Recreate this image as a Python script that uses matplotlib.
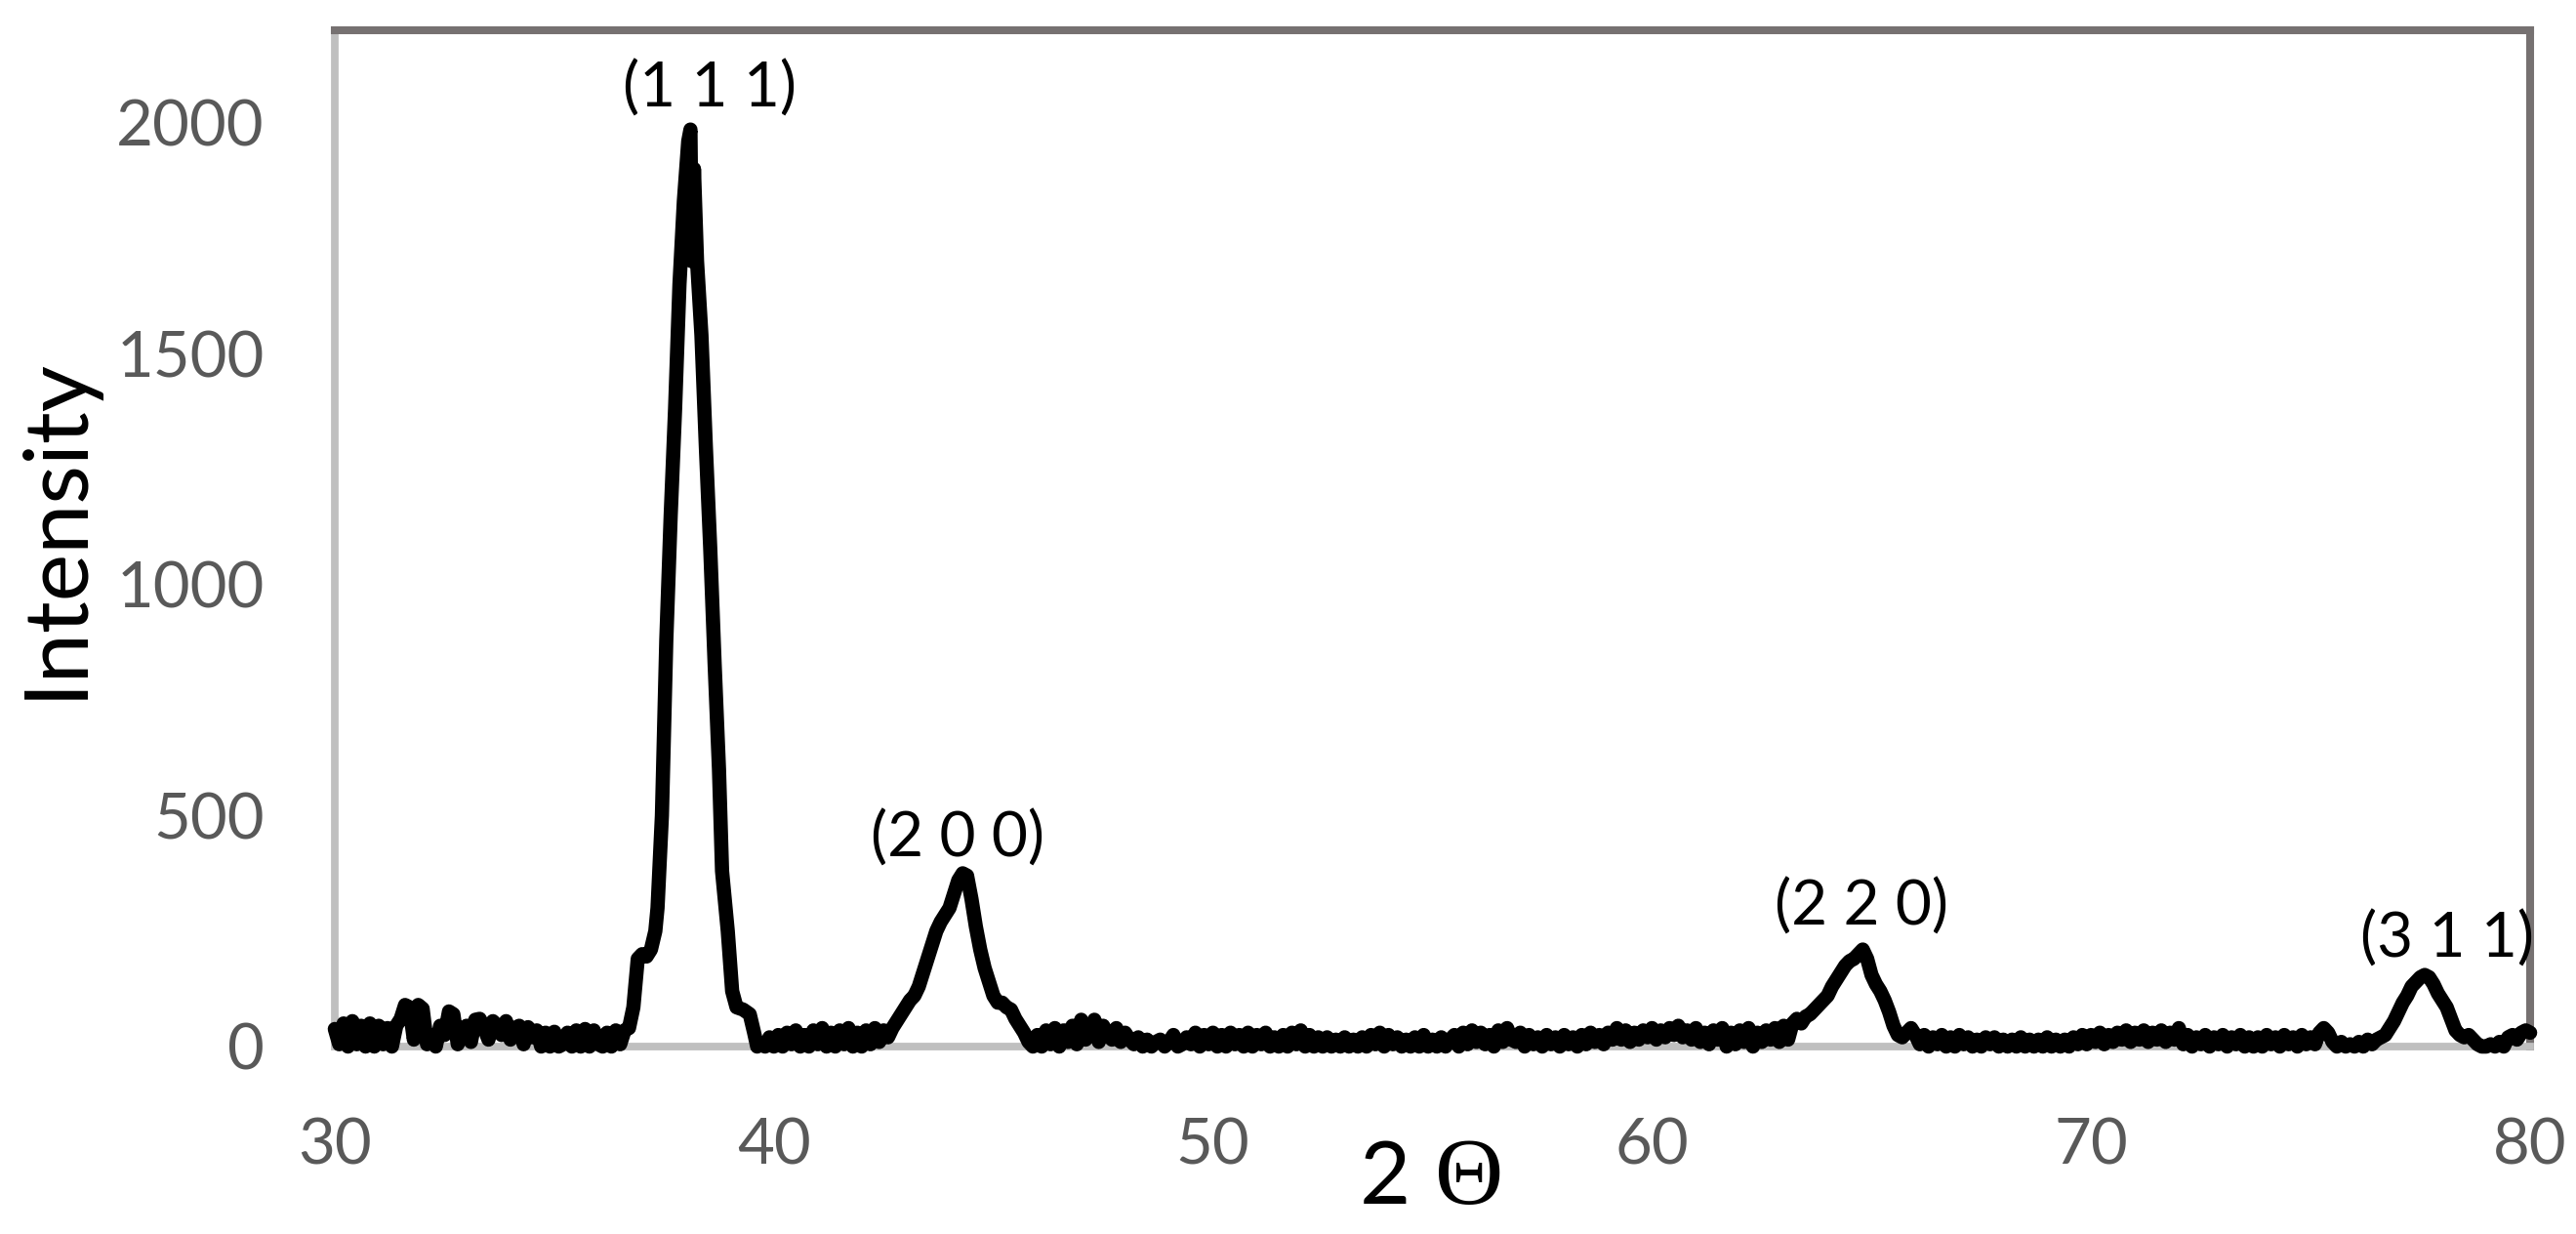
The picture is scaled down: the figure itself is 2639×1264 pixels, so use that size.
import matplotlib
matplotlib.use("Agg")
import matplotlib.pyplot as plt

# ---- data (2theta in degrees, intensity) ----
two_theta = [
    30.0, 30.1, 30.2, 30.3, 30.4, 30.5, 30.6, 30.7, 30.8, 30.9,
    31.0, 31.1, 31.2, 31.3, 31.4, 31.5, 31.6, 31.7, 31.8, 31.9,
    32.0, 32.1, 32.2, 32.3, 32.4, 32.5, 32.6, 32.7, 32.8, 32.9,
    33.0, 33.1, 33.2, 33.3, 33.4, 33.5, 33.6, 33.7, 33.8, 33.9,
    34.0, 34.1, 34.2, 34.3, 34.4, 34.5, 34.6, 34.7, 34.8, 34.9,
    35.0, 35.1, 35.2, 35.3, 35.4, 35.5, 35.6, 35.7, 35.8, 35.9,
    36.0, 36.1, 36.2, 36.3, 36.4, 36.5, 36.6, 36.7, 36.8, 36.9,
    37.0, 37.1, 37.2, 37.3, 37.35, 37.45, 37.55, 37.65, 37.75, 37.85,
    37.95, 38.05, 38.1, 38.13, 38.18, 38.25, 38.35, 38.45, 38.55, 38.65,
    38.75, 38.82, 38.9, 38.95, 39.05, 39.15, 39.3, 39.45, 39.55, 39.62,
    39.7, 39.8, 39.9, 40.0, 40.1, 40.2, 40.3, 40.4, 40.5, 40.6,
    40.7, 40.8, 40.9, 41.0, 41.1, 41.2, 41.3, 41.4, 41.5, 41.6,
    41.7, 41.8, 41.9, 42.0, 42.1, 42.2, 42.3, 42.4, 42.5, 42.6,
    42.7, 42.8, 42.9, 43.0, 43.1, 43.2, 43.3, 43.4, 43.5, 43.6,
    43.7, 43.8, 43.9, 44.0, 44.1, 44.2, 44.3, 44.4, 44.5, 44.6,
    44.7, 44.8, 44.9, 45.0, 45.1, 45.2, 45.3, 45.4, 45.5, 45.6,
    45.7, 45.8, 45.9, 46.0, 46.1, 46.2, 46.3, 46.4, 46.5, 46.6,
    46.7, 46.8, 46.9, 47.0, 47.1, 47.2, 47.3, 47.4, 47.5, 47.6,
    47.7, 47.8, 47.9, 48.0, 48.1, 48.2, 48.3, 48.4, 48.5, 48.6,
    48.7, 48.8, 48.9, 49.0, 49.1, 49.2, 49.3, 49.4, 49.5, 49.6,
    49.7, 49.8, 49.9, 50.0, 50.1, 50.2, 50.3, 50.4, 50.5, 50.6,
    50.7, 50.8, 50.9, 51.0, 51.1, 51.2, 51.3, 51.4, 51.5, 51.6,
    51.7, 51.8, 51.9, 52.0, 52.1, 52.2, 52.3, 52.4, 52.5, 52.6,
    52.7, 52.8, 52.9, 53.0, 53.1, 53.2, 53.3, 53.4, 53.5, 53.6,
    53.7, 53.8, 53.9, 54.0, 54.1, 54.2, 54.3, 54.4, 54.5, 54.6,
    54.7, 54.8, 54.9, 55.0, 55.1, 55.2, 55.3, 55.4, 55.5, 55.6,
    55.7, 55.8, 55.9, 56.0, 56.1, 56.2, 56.3, 56.4, 56.5, 56.6,
    56.7, 56.8, 56.9, 57.0, 57.1, 57.2, 57.3, 57.4, 57.5, 57.6,
    57.7, 57.8, 57.9, 58.0, 58.1, 58.2, 58.3, 58.4, 58.5, 58.6,
    58.7, 58.8, 58.9, 59.0, 59.1, 59.2, 59.3, 59.4, 59.5, 59.6,
    59.7, 59.8, 59.9, 60.0, 60.1, 60.2, 60.3, 60.4, 60.5, 60.6,
    60.7, 60.8, 60.9, 61.0, 61.1, 61.2, 61.3, 61.4, 61.5, 61.6,
    61.7, 61.8, 61.9, 62.0, 62.1, 62.2, 62.3, 62.4, 62.5, 62.6,
    62.7, 62.8, 62.9, 63.0, 63.1, 63.2, 63.3, 63.4, 63.5, 63.6,
    63.7, 63.8, 63.9, 64.0, 64.1, 64.2, 64.3, 64.4, 64.5, 64.6,
    64.7, 64.8, 64.9, 65.0, 65.1, 65.2, 65.3, 65.4, 65.5, 65.6,
    65.7, 65.8, 65.9, 66.0, 66.1, 66.2, 66.3, 66.4, 66.5, 66.6,
    66.7, 66.8, 66.9, 67.0, 67.1, 67.2, 67.3, 67.4, 67.5, 67.6,
    67.7, 67.8, 67.9, 68.0, 68.1, 68.2, 68.3, 68.4, 68.5, 68.6,
    68.7, 68.8, 68.9, 69.0, 69.1, 69.2, 69.3, 69.4, 69.5, 69.6,
    69.7, 69.8, 69.9, 70.0, 70.1, 70.2, 70.3, 70.4, 70.5, 70.6,
    70.7, 70.8, 70.9, 71.0, 71.1, 71.2, 71.3, 71.4, 71.5, 71.6,
    71.7, 71.8, 71.9, 72.0, 72.1, 72.2, 72.3, 72.4, 72.5, 72.6,
    72.7, 72.8, 72.9, 73.0, 73.1, 73.2, 73.3, 73.4, 73.5, 73.6,
    73.7, 73.8, 73.9, 74.0, 74.1, 74.2, 74.3, 74.4, 74.5, 74.6,
    74.7, 74.8, 74.9, 75.0, 75.1, 75.2, 75.3, 75.4, 75.5, 75.6,
    75.7, 75.8, 75.9, 76.0, 76.1, 76.2, 76.3, 76.4, 76.5, 76.6,
    76.7, 76.8, 76.9, 77.0, 77.1, 77.2, 77.3, 77.4, 77.5, 77.6,
    77.7, 77.8, 77.9, 78.0, 78.1, 78.2, 78.3, 78.4, 78.5, 78.6,
    78.7, 78.8, 78.9, 79.0, 79.1, 79.2, 79.3, 79.4, 79.5, 79.6,
    79.7, 79.8, 79.9, 80.0,
]
intensity = [
    38, 5, 50, 0, 55, 5, 45, 0, 50, 0,
    45, 5, 40, 0, 45, 60, 90, 85, 15, 90,
    82, 5, 25, 0, 45, 25, 76, 70, 5, 35,
    45, 10, 58, 60, 40, 15, 55, 45, 25, 55,
    15, 40, 45, 5, 42, 20, 35, 0, 30, 0,
    32, 0, 5, 30, 0, 35, 0, 38, 0, 35,
    5, 0, 30, 0, 35, 5, 35, 40, 85, 190,
    200, 195, 210, 250, 300, 500, 880, 1150, 1380, 1650,
    1830, 1960, 1985, 1700, 1900, 1700, 1540, 1300, 1080, 830,
    600, 380, 300, 250, 120, 85, 80, 70, 30, 0,
    5, 0, 20, 0, 25, 0, 30, 5, 35, 0,
    25, 0, 35, 5, 40, 0, 30, 0, 35, 5,
    40, 0, 30, 0, 35, 5, 40, 10, 35, 20,
    40, 55, 70, 85, 100, 110, 130, 160, 190, 220,
    250, 270, 285, 300, 330, 360, 375, 370, 320, 260,
    210, 170, 140, 110, 95, 95, 85, 80, 60, 45,
    30, 10, 0, 25, 0, 35, 5, 40, 0, 35,
    10, 45, 5, 58, 15, 35, 58, 10, 45, 25,
    15, 40, 10, 30, 15, 5, 20, 0, 15, 0,
    10, 15, 0, 10, 25, 0, 5, 20, 5, 30,
    0, 25, 5, 30, 0, 25, 0, 30, 5, 25,
    0, 30, 0, 25, 5, 30, 0, 20, 0, 25,
    0, 30, 5, 35, 0, 25, 0, 20, 0, 20,
    0, 15, 0, 20, 0, 15, 0, 20, 0, 25,
    5, 30, 0, 25, 5, 20, 0, 15, 0, 20,
    0, 25, 0, 15, 0, 20, 0, 15, 25, 0,
    30, 5, 35, 10, 30, 5, 25, 0, 35, 10,
    40, 15, 10, 30, 0, 25, 5, 20, 0, 25,
    5, 20, 0, 25, 5, 20, 0, 25, 5, 30,
    10, 25, 5, 30, 15, 40, 15, 35, 10, 30,
    15, 35, 20, 40, 15, 35, 20, 40, 25, 45,
    20, 35, 15, 40, 10, 30, 5, 35, 15, 40,
    0, 30, 5, 35, 10, 40, 0, 30, 10, 35,
    15, 40, 10, 45, 15, 50, 60, 50, 65, 70,
    80, 90, 100, 110, 130, 145, 160, 175, 185, 190,
    200, 210, 190, 155, 135, 120, 100, 75, 45, 25,
    20, 30, 40, 25, 5, 25, 0, 20, 5, 25,
    0, 20, 0, 25, 5, 20, 0, 15, 0, 20,
    5, 20, 0, 15, 0, 15, 0, 20, 0, 15,
    0, 15, 0, 20, 0, 15, 0, 15, 0, 20,
    5, 25, 5, 25, 10, 30, 5, 25, 10, 30,
    15, 35, 10, 30, 15, 35, 10, 30, 15, 35,
    10, 30, 15, 40, 5, 25, 0, 20, 5, 25,
    0, 20, 5, 25, 0, 20, 5, 25, 0, 20,
    0, 20, 0, 25, 5, 20, 0, 25, 5, 20,
    0, 25, 5, 20, 5, 30, 40, 30, 10, 0,
    10, 0, 5, 0, 10, 0, 15, 5, 15, 20,
    25, 40, 55, 75, 95, 110, 130, 140, 150, 155,
    150, 135, 115, 100, 85, 60, 35, 25, 20, 25,
    15, 5, 0, 0, 5, 0, 10, 0, 20, 25,
    15, 30, 35, 30,
]

x_ticks = [30, 40, 50, 60, 70, 80]
y_ticks = [0, 500, 1000, 1500, 2000]
peak_labels = ["(1 1 1)", "(2 0 0)", "(2 2 0)", "(3 1 1)"]
peak_label_x = [38.54, 44.18, 64.77, 78.11]
peak_label_y = [2074, 451, 303, 232]

W, H = 2639, 1264
fig = plt.figure(figsize=(W / 100, H / 100), dpi=100)
fig.patch.set_facecolor("white")
ax = fig.add_axes([343 / W, 1 - 1072 / H, (2592 - 343) / W, (1072 - 31) / H])

ax.plot(two_theta, intensity, color="black", lw=10.5, solid_joinstyle="round",
        solid_capstyle="round", clip_on=False, zorder=5)

ax.set_xlim(30, 80)
ax.set_ylim(0, 2200)
ax.set_xticks(x_ticks)
ax.set_yticks(y_ticks)
ax.tick_params(length=0, labelsize=47, labelcolor="#595959", pad=52)
for lab in ax.get_xticklabels() + ax.get_yticklabels():
    lab.set_family("Lato")

for s in ["left", "bottom"]:
    ax.spines[s].set_color("#BFBFBF")
    ax.spines[s].set_linewidth(5.6)
for s in ["top", "right"]:
    ax.spines[s].set_color("#767171")
    ax.spines[s].set_linewidth(5.8)

for lab, lx, ly in zip(peak_labels, peak_label_x, peak_label_y):
    ax.text(lx, ly, lab, ha="center", va="center", fontsize=46,
            family="Lato", color="black", zorder=6)

fig.text(57 / W, 1 - 540 / H, "Intensity", rotation=90, ha="center",
         va="center", fontsize=66, family="Lato", color="black")
fig.text(1419 / W, 1 - 1233 / H, "2", ha="center", va="baseline",
         fontsize=65, family="Lato", color="black")
fig.text(1505 / W, 1 - 1233 / H, "\u0398", ha="center", va="baseline",
         fontsize=70, family="Liberation Serif", color="black")

fig.savefig("out.png", dpi=100, facecolor="white")
